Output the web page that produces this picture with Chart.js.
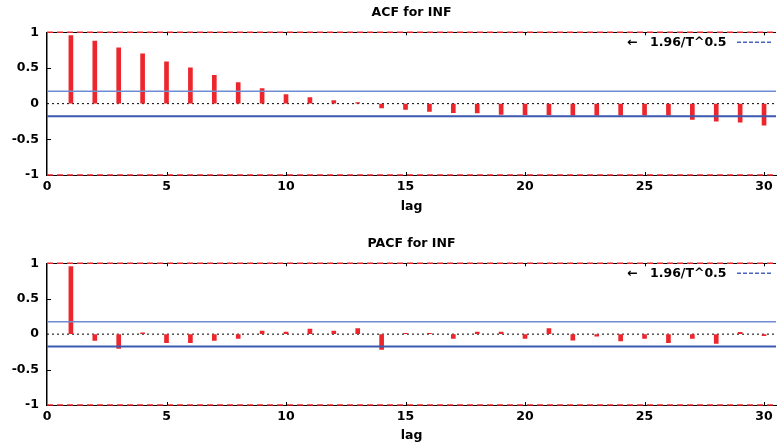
<!DOCTYPE html>
<html>
<head>
<meta charset="utf-8">
<script src="https://cdn.jsdelivr.net/npm/chart.js@4"></script>
<style>
  body { margin: 0; background: #fff; }
  .box { position: relative; width: 779px; }
</style>
</head>
<body>
<div class="box" style="height:214px"><canvas id="acf"></canvas></div>
<div class="box" style="height:229px"><canvas id="pacf"></canvas></div>
<script>
// lags 1..30
const lags = [1, 2, 3, 4, 5, 6, 7, 8, 9, 10, 11, 12, 13, 14, 15,
              16, 17, 18, 19, 20, 21, 22, 23, 24, 25, 26, 27, 28, 29, 30]
const acfValues = [0.955, 0.876, 0.783, 0.70, 0.587, 0.503, 0.396, 0.294, 0.21, 0.126,
                   0.084, 0.042, 0.015, -0.06, -0.08, -0.11, -0.125, -0.13, -0.15, -0.155,
                   -0.155, -0.16, -0.16, -0.16, -0.16, -0.16, -0.22, -0.245, -0.26, -0.30]
const pacfValues = [0.955, -0.09, -0.2, 0.02, -0.12, -0.12, -0.09, -0.06, 0.045, 0.03,
                    0.07, 0.045, 0.08, -0.215, 0.01, 0.01, -0.06, 0.03, 0.03, -0.06,
                    0.08, -0.085, -0.03, -0.095, -0.06, -0.12, -0.06, -0.13, 0.025, -0.02]
const band = 0.175          // 1.96/T^0.5
const xRange = [0, 30.5]
const xTicks = [0, 5, 10, 15, 20, 25, 30]
const yTicks = [-1, -0.5, 0, 0.5, 1]
const legendText = '1.96/T^0.5'

const FONT = { family: 'DejaVu Sans', size: 12.5, weight: 'bold' }
const RED = 'rgb(236, 38, 44)'

function hline(y, color, width, dash, order) {
    return {
        type: 'line',
        data: xRange.map(x => ({ x: x, y: y })),
        borderColor: color,
        borderWidth: width,
        borderDash: dash,
        pointRadius: 0,
        clip: false,
        order: order
    }
}

// gnuplot style key in the top right corner, plus small inward tick marks
const keyPlugin = {
    id: 'key',
    afterDraw(chart) {
        const ctx = chart.ctx
        const area = chart.chartArea
        const y = area.top + 10
        ctx.save()
        ctx.fillStyle = '#000'
        ctx.font = 'bold 12.5px "DejaVu Sans"'
        ctx.textBaseline = 'middle'
        ctx.fillText('\u2190', 627, y)
        ctx.fillText(legendText, 650, y)
        ctx.strokeStyle = 'rgb(70, 100, 190)'
        ctx.lineWidth = 1.5
        ctx.setLineDash([4, 2])
        ctx.beginPath()
        ctx.moveTo(737, y)
        ctx.lineTo(771, y)
        ctx.stroke()

        ctx.setLineDash([])
        ctx.strokeStyle = '#000'
        ctx.lineWidth = 1
        ctx.beginPath()
        xTicks.slice(1).forEach(v => {
            const px = Math.round(chart.scales.x.getPixelForValue(v)) + 0.5
            ctx.moveTo(px, area.top)
            ctx.lineTo(px, area.top + 3)
            ctx.moveTo(px, area.bottom)
            ctx.lineTo(px, area.bottom - 3)
        })
        ;[-0.5, 0.5].forEach(v => {
            const py = Math.round(chart.scales.y.getPixelForValue(v)) + 0.5
            ctx.moveTo(area.left, py)
            ctx.lineTo(area.left + 4, py)
        })
        ctx.stroke()
        ctx.restore()
    }
}

function makeChart(id, title, values, topPad, axisHeight) {
    return new Chart(document.getElementById(id), {
        type: 'bar',
        data: {
            datasets: [
                {
                    type: 'bar',
                    data: lags.map((l, i) => ({ x: l, y: values[i] })),
                    backgroundColor: RED,
                    barThickness: 4,
                    order: 2
                },
                hline(0, '#000', 1, [2, 3], 3),
                hline(band, 'rgb(110, 140, 210)', 1.5, [], 1),
                hline(-band, 'rgb(60, 90, 175)', 2, [], 1),
                hline(1, RED, 1.5, [6, 4], 0),
                hline(-1, RED, 1.5, [6, 4], 0)
            ]
        },
        options: {
            responsive: true,
            maintainAspectRatio: false,
            animation: false,
            layout: { padding: { top: topPad, right: 3, left: 0, bottom: 0 } },
            plugins: {
                legend: { display: false },
                tooltip: { enabled: false },
                title: {
                    display: true,
                    text: title,
                    fullSize: false,
                    color: '#000',
                    font: FONT,
                    padding: { top: 5, bottom: 12.3 }
                }
            },
            scales: {
                x: {
                    type: 'linear',
                    min: xRange[0],
                    max: xRange[1],
                    offset: false,
                    afterBuildTicks: s => { s.ticks = xTicks.map(v => ({ value: v })) },
                    grid: { display: false, drawTicks: false, offset: false },
                    border: { display: true, color: '#000', width: 1 },
                    ticks: { color: '#000', font: FONT, padding: 4, maxRotation: 0, callback: v => String(v) },
                    title: { display: true, text: 'lag', color: '#000', font: FONT, padding: { top: 0, bottom: 0 } },
                    afterFit: s => { s.height = axisHeight }
                },
                y: {
                    min: yTicks[0],
                    max: yTicks[yTicks.length - 1],
                    afterBuildTicks: s => { s.ticks = yTicks.map(v => ({ value: v })) },
                    grid: {
                        drawTicks: false,
                        color: c => c.tick && c.tick.value === 1 ? '#000' : 'rgba(0,0,0,0)'
                    },
                    border: { display: true, color: '#000', width: 1.5 },
                    ticks: { color: '#000', font: FONT, padding: 8, callback: v => String(v) },
                    afterFit: s => { s.width = 47 }
                }
            }
        },
        plugins: [keyPlugin]
    })
}

makeChart('acf', 'ACF for INF', acfValues, 0, 39)
makeChart('pacf', 'PACF for INF', pacfValues, 17, 38)
</script>
</body>
</html>
